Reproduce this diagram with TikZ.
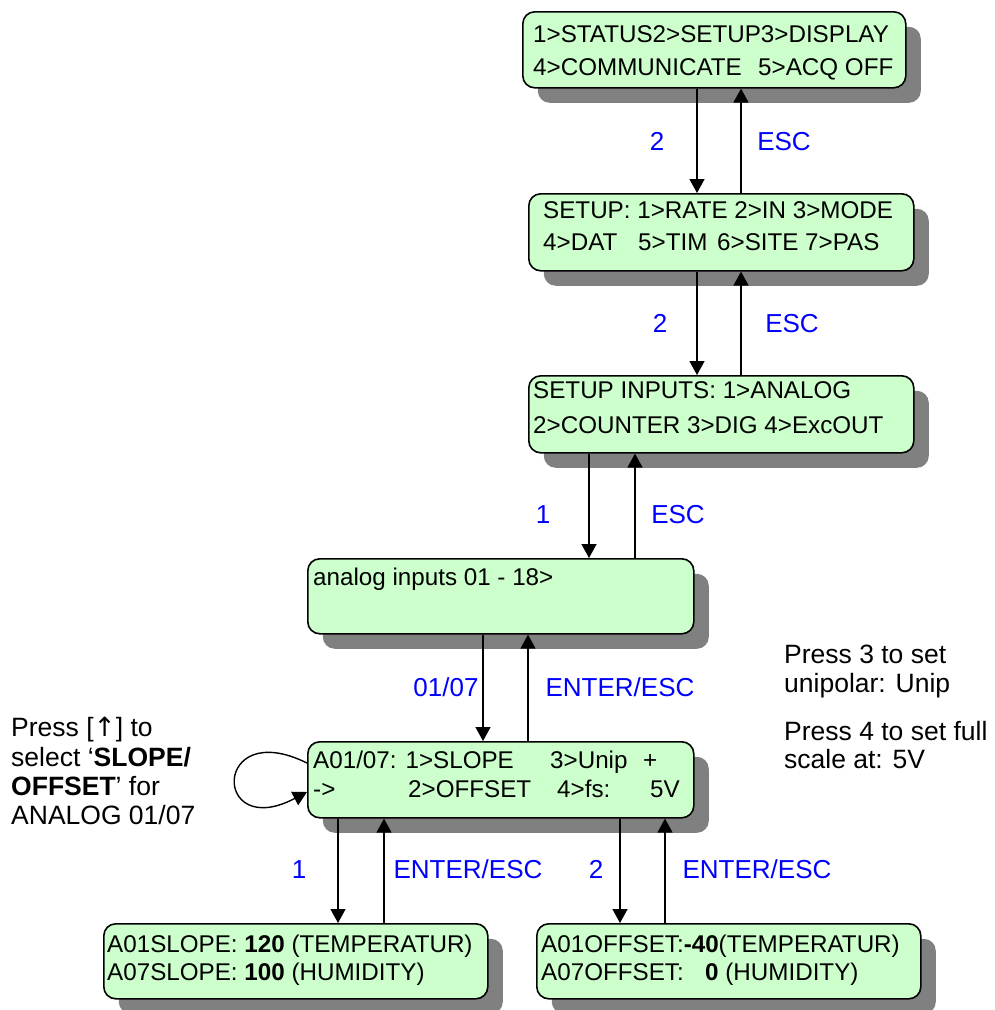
\documentclass[tikz,border=0pt]{standalone}
\usepackage{fontspec}
\setmainfont{Liberation Sans}
\newfontfamily\arrowfont{DejaVu Sans}
\usetikzlibrary{arrows.meta,shadows}
\definecolor{lcd}{RGB}{204,255,204}
\definecolor{keyblue}{RGB}{0,0,255}
\tikzset{
  screen/.style={draw=black, line width=1.6pt, fill=lcd, rounded corners=12pt,
    anchor=north west, inner sep=0pt,
    drop shadow={shadow xshift=15pt, shadow yshift=-15pt, fill=black!50, opacity=1}},
  txt/.style={anchor=base west, inner sep=0pt, font=\fontsize{24.2}{29}\selectfont},
  note/.style={anchor=base west, inner sep=0pt, font=\fontsize{26.5}{30}\selectfont},
  key/.style={anchor=base, inner sep=0pt, text=keyblue, font=\fontsize{26}{30}\selectfont},
  arr/.style={line width=1.4pt, -{Triangle[length=14pt,width=15pt]}}
}
\begin{document}
\begin{tikzpicture}[x=1pt,y=-1pt]
\useasboundingbox (0,0) rectangle (994,1010);

% menu screens
\node[screen, minimum width=383pt, minimum height=76pt] (main) at (522,11) {};
\node[screen, minimum width=385pt, minimum height=77pt] (setup) at (528,193) {};
\node[screen, minimum width=385pt, minimum height=77pt] (inputs) at (528,375) {};
\node[screen, minimum width=386pt, minimum height=75pt] (analog) at (307,558) {};
\node[screen, minimum width=386pt, minimum height=76pt] (chan) at (307,741) {};
\node[screen, minimum width=384pt, minimum height=75pt] (slope) at (103,923) {};
\node[screen, minimum width=384pt, minimum height=75pt] (offset) at (536,923) {};

% screen texts
\node[txt] (m1) at (533,42) {1>STATUS2>SETUP3>DISPLAY};
\node[txt] (m2) at (533,75) {4>COMMUNICATE};
\node[txt] (m3) at (758,75) {5>ACQ OFF};

\node[txt] (s1) at (543,218) {SETUP: 1>RATE 2>IN 3>MODE};
\node[txt] (s2) at (543,250) {4>DAT};
\node[txt] (s3) at (638,250) {5>TIM};
\node[txt] (s4) at (717,250) {6>SITE};
\node[txt] (s5) at (805,250) {7>PAS};

\node[txt] (i1) at (533,398) {SETUP INPUTS: 1>ANALOG};
\node[txt] (i2) at (533,433) {2>COUNTER 3>DIG 4>ExcOUT};

\node[txt] (a1) at (313,585) {analog inputs 01 - 18>};

\node[txt] (c1) at (313,768) {A01/07: 1>SLOPE};
\node[txt] (c2) at (550,768) {3>Unip};
\node[txt] (c3) at (643,768) {+};
\node[txt] (c4) at (313,797) {->};
\node[txt] (c5) at (408,797) {2>OFFSET};
\node[txt] (c6) at (557,797) {4>fs:};
\node[txt] (c7) at (650,797) {5V};

\node[txt] (sl1) at (107,952) {A01SLOPE: \textbf{120} (TEMPERATUR)};
\node[txt] (sl2) at (107,980) {A07SLOPE: \textbf{100} (HUMIDITY)};

\node[txt] (of1) at (541,952) {A01OFFSET:\textbf{-40}(TEMPERATUR)};
\node[txt] (of2) at (541,980) {A07OFFSET:};
\node[txt] (of3) at (705,980) {\textbf{0} (HUMIDITY)};

% notes
\node[note] (n1) at (11,736) {Press [{\arrowfont ↑}] to};
\node[note] (n2) at (11,766) {select ‘\textbf{SLOPE/}};
\node[note] (n3) at (11,795) {\textbf{OFFSET}’ for};
\node[note] (n4) at (11,824) {ANALOG 01/07};

\node[note] (r1) at (784,663) {Press 3 to set};
\node[note] (r2) at (784,692) {unipolar: Unip};
\node[note] (r3) at (784,740) {Press 4 to set full};
\node[note] (r4) at (784,768) {scale at: 5V};

% transitions
\draw[arr] (697,0 |- main.south) -- (697,0 |- setup.north);
\draw[arr] (741,0 |- setup.north) -- (741,0 |- main.south);
\draw[arr] (697,0 |- setup.south) -- (697,0 |- inputs.north);
\draw[arr] (741,0 |- inputs.north) -- (741,0 |- setup.south);
\draw[arr] (589,0 |- inputs.south) -- (589,0 |- analog.north);
\draw[arr] (635,0 |- analog.north) -- (635,0 |- inputs.south);
\draw[arr] (483,0 |- analog.south) -- (483,0 |- chan.north);
\draw[arr] (528,0 |- chan.north) -- (528,0 |- analog.south);
\draw[arr] (338,0 |- chan.south) -- (338,0 |- slope.north);
\draw[arr] (384,0 |- slope.north) -- (384,0 |- chan.south);
\draw[arr] (620,0 |- chan.south) -- (620,0 |- offset.north);
\draw[arr] (665,0 |- offset.north) -- (665,0 |- chan.south);

% self loop on the channel screen
\draw[arr] (chan.west |- 0,763) .. controls (212,716) and (212,842) .. (chan.west |- 0,792);

% key labels
\node[key] (k1) at (657,150) {2};
\node[key] (k2) at (784,150) {ESC};
\node[key] (k3) at (660,332) {2};
\node[key] (k4) at (792,332) {ESC};
\node[key] (k5) at (543,523) {1};
\node[key] (k6) at (678,523) {ESC};
\node[key] (k7) at (446,696) {01/07};
\node[key] (k8) at (620,696) {ENTER/ESC};
\node[key] (k9) at (299,878) {1};
\node[key] (k10) at (468,878) {ENTER/ESC};
\node[key] (k11) at (596,878) {2};
\node[key] (k12) at (757,878) {ENTER/ESC};
\end{tikzpicture}
\end{document}
